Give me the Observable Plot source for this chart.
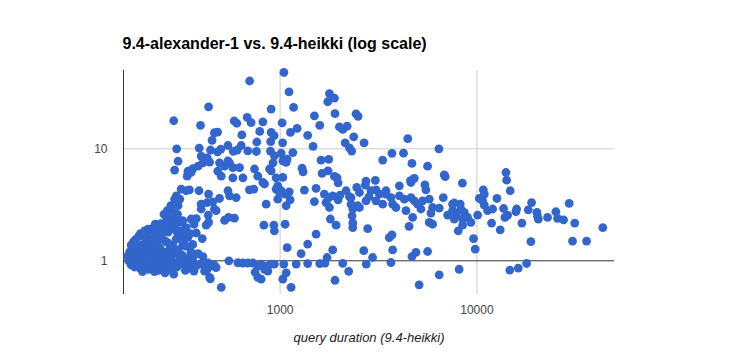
<!DOCTYPE html>
<html><head><meta charset="utf-8">
<script src="https://cdn.jsdelivr.net/npm/d3@7"></script>
<script src="https://cdn.jsdelivr.net/npm/@observablehq/plot@0.6"></script>
<style>
html,body{margin:0;padding:0;background:#fff;}
#chart{width:736px;height:364px;}
</style></head><body><div id="chart"></div>
<script>
const title = "9.4-alexander-1 vs. 9.4-heikki (log scale)";
const xTitle = "query duration (9.4-heikki)";
const xTicks = [1000, 10000];
const yTicks = [1, 10];
const xDomain = [160, 50000];
const yDomain = [0.5, 50];

// [query duration on 9.4-heikki (ms), ratio 9.4-alexander-1 / 9.4-heikki]
const upperLeft = [[1045,48],[700,40.3],[1110,32.2],[1170,23.4],[900,22.6],[433,23.7],[288,17.8],[394,16.2],[584,17.7],[602,16.9],[680,19.1],[712,17.1],[817,17.4],[1024,17.0],[1220,15.2],[1128,14.0],[463,13.9],[481,14.1],[451,11.9],[639,13.3],[788,14.3],[900,14.0],[932,13.1],[895,11.6],[761,11.5],[1030,11.3],[298,10.0],[388,10.15],[443,9.75],[481,9.4],[499,9.9],[543,10.7],[578,9.5],[605,9.75],[634,10.7],[685,9.56],[758,9.46],[893,9.54],[935,8.66],[1012,9.12],[1160,9.25],[1032,7.81],[1086,8.1],[303,7.74],[291,6.45],[340,6.3],[360,6.66],[337,5.7],[383,7.0],[397,8.6],[405,7.5],[438,7.6],[492,7.5],[522,7.0],[553,7.5],[482,6.3],[502,5.7],[575,6.78],[622,6.78],[575,5.5],[647,5.5],[741,6.6],[770,5.7],[883,6.6],[920,7.5],[954,5.5],[1073,7.55],[353,6.15],[413,7.9],[426,8.3],[543,7.81],[900,6.36]];

const diagonal = [[817,5.0],[1032,5.55],[314,4.37],[333,4.22],[346,4.3],[297,3.8],[309,3.55],[291,3.55],[387,4.22],[433,3.94],[397,3.2],[426,3.31],[455,3.36],[492,3.6],[473,2.8],[431,2.56],[543,4.22],[553,3.8],[598,3.67],[698,4.3],[735,4.37],[833,4.85],[954,4.37],[992,4.07],[973,3.55],[1060,3.94],[1073,3.1],[849,3.2],[278,3.1],[267,2.8],[257,2.6],[264,2.2],[275,2.52],[286,2.7],[301,2.6],[232,2.12],[320,2.28],[333,1.98],[353,2.36],[375,2.38],[365,2.12],[421,2.08],[433,2.2],[375,1.77],[402,1.58],[522,2.3],[547,2.44],[586,2.4],[827,2.08],[929,2.08],[935,1.85],[1060,2.12],[1086,1.31],[191,1.65],[205,1.85],[213,1.92],[314,1.62],[320,1.38],[303,3.43],[397,2.9],[973,4.67],[1012,4.22],[1112,4.13],[1124,3.5],[303,3.1],[291,2.2],[309,2.28],[463,2.9],[303,1.85],[320,1.85],[333,1.79],[326,1.41]];

const cluster = [[168,1.1],[170,1.0],[172,1.2],[175,0.92],[178,1.05],[180,1.25],[182,0.88],[185,1.12],[187,0.98],[190,1.33],[192,1.04],[194,0.86],[197,1.18],[199,0.95],[201,1.4],[204,1.08],[206,0.9],[208,1.26],[210,1.0],[213,1.5],[215,0.84],[217,1.15],[220,1.35],[222,0.97],[225,1.06],[228,1.6],[230,0.89],[232,1.22],[235,1.43],[237,1.0],[240,0.82],[242,1.12],[245,1.3],[248,0.93],[250,1.68],[253,1.05],[256,1.2],[258,0.87],[261,1.5],[264,1.0],[267,1.13],[270,1.8],[273,0.91],[276,1.28],[279,1.06],[282,1.95],[285,1.38],[288,0.95],[292,1.17],[296,1.56],[300,0.88],[304,1.25],[308,1.03],[312,1.7],[318,1.12],[325,0.93],[332,1.35],[338,1.05],[345,0.86],[352,1.2],[360,1.0],[370,0.9],[185,1.55],[195,1.75],[205,1.62],[215,1.85],[225,1.95],[240,2.05],[255,1.9],[265,2.3],[275,2.1],[290,2.0],[300,1.8],[180,1.48],[200,0.8],[230,0.8],[260,0.78],[175,1.38],[245,1.55],[268,1.45],[320,1.5],[340,1.62],[248,2.15],[235,1.75],[210,1.72],[290,2.4],[310,2.2],[280,2.6],[278,0.84],[330,0.82],[360,1.4],[350,1.75],[360,1.09],[375,0.90],[413,0.81],[438,0.71]];

const nearOne = [[288,0.76],[442,0.69],[502,0.58],[549,1.0],[610,0.96],[647,0.955],[685,0.955],[727,0.955],[770,0.90],[801,0.935],[866,0.90],[900,0.935],[935,0.935],[746,0.79],[770,0.71],[801,0.685],[833,0.84],[866,0.81],[1044,0.935],[1073,0.78],[1032,0.685],[1137,0.58],[383,1.16],[405,1.09],[431,0.955],[463,0.915],[438,0.90],[397,0.935],[326,1.035],[333,0.955],[340,0.87],[365,0.81],[451,0.90],[473,0.87],[426,0.84],[413,0.965],[1206,0.935],[1380,0.945],[1590,0.945],[1278,1.16],[1380,1.41],[1523,1.73],[1850,1.25],[1732,1.07],[1690,0.954],[2080,0.95],[2230,0.806],[1900,0.67],[2660,1.23],[2950,1.07],[2740,0.935],[3730,1.25],[3657,0.965],[3585,1.61],[3700,1.7],[4675,1.09],[4898,1.19],[5615,1.21],[5085,0.61],[6430,0.75]];

const middle = [[1493,19.7],[1590,16.2],[1780,31.1],[1887,28.3],[1745,26.3],[1900,20.6],[2430,20.5],[2490,19.5],[2000,15.7],[2080,14.9],[2190,15.9],[1380,13.2],[1470,10.5],[2365,12.8],[2670,11.3],[2140,11.3],[2250,10.2],[2310,9.54],[3320,7.93],[3700,9.1],[4235,9.14],[4450,12.3],[4675,7.4],[5615,7.0],[6410,10.0],[6820,5.86],[8435,4.94],[1293,6.7],[1308,6.23],[1614,7.93],[1766,8.05],[1633,6.03],[1752,6.36],[1887,5.68],[1947,5.5],[1970,4.97],[2731,5.15],[3045,5.23],[4595,5.2],[4805,5.45],[5440,4.77],[5505,4.3],[1523,4.44],[1328,4.28],[1493,3.38],[1677,3.94],[1766,3.67],[1850,3.8],[1970,3.5],[2015,3.86],[1711,3.31],[1780,2.99],[1800,2.36],[1924,2.08],[2292,3.67],[2450,4.52],[2530,4.07],[2710,4.74],[2731,3.43],[2480,3.1],[2340,2.9],[2320,2.52],[2340,2.18],[2340,1.98],[2786,1.94],[3070,4.3],[3190,3.94],[3450,4.22],[3320,3.2],[3070,3.43],[3450,3.94],[3657,3.67],[3730,3.2],[3878,2.99],[4035,4.67],[4035,3.8],[4275,3.55],[4358,2.8],[4620,5.0],[4620,3.67],[4805,3.43],[4995,3.2],[5193,2.9],[4712,2.44],[4520,2.03],[5297,3.43],[5725,3.55],[5950,2.99],[5836,2.67],[5725,2.2],[5950,2.12],[6430,2.95],[6745,3.67],[7095,2.56],[7520,3.2],[7817,2.52],[6900,5.65],[2162,4.22],[2250,3.73],[2292,3.2],[2895,4.22],[2830,3.73],[2530,2.99]];

const rightTail = [[14040,6.14],[14150,5.25],[14760,4.22],[10770,4.3],[10900,3.94],[10280,3.6],[10690,3.43],[7670,3.28],[8220,3.2],[7520,2.8],[7817,2.67],[8286,2.9],[8620,2.7],[7670,2.36],[8460,2.36],[8960,2.44],[9314,2.2],[8460,2.08],[8035,1.85],[10080,2.56],[10900,3.14],[11330,2.8],[12020,2.9],[12640,3.6],[11870,2.17],[13130,1.89],[13660,2.93],[13880,2.44],[14320,2.56],[15900,2.9],[15780,2.74],[16920,2.17],[18230,2.85],[18950,3.31],[20170,2.7],[20330,2.49],[20500,2.36],[22850,2.44],[25180,2.74],[25680,2.39],[27550,2.32],[29430,3.25],[31400,2.17],[43600,1.98],[30600,1.5],[36050,1.5],[18800,1.48],[9610,1.58],[9800,1.27],[8120,0.84],[14700,0.826],[16220,0.86],[17880,0.946]];

const data = [...upperLeft, ...diagonal, ...cluster, ...nearOne, ...middle, ...rightTail]
  .map(([ms, ratio]) => ({ms, ratio}));

const font = "'Liberation Sans', Arial, sans-serif";
const chart = Plot.plot({
  width: 736, height: 364,
  marginTop: 70, marginBottom: 70, marginLeft: 123, marginRight: 122,
  style: {fontFamily: font, background: "#fff", color: "#444", overflow: "visible"},
  x: {type: "log", domain: xDomain, label: null},
  y: {type: "log", domain: yDomain, label: null},
  marks: [
    Plot.ruleX(xTicks, {stroke: "#cccccc", strokeWidth: 1}),
    Plot.ruleY(yTicks.filter(d => d !== 1), {stroke: "#cccccc", strokeWidth: 1}),
    Plot.ruleY([1], {stroke: "#333333", strokeWidth: 1}),
    Plot.ruleX([xDomain[0]], {stroke: "#333333", strokeWidth: 1}),
    Plot.axisX(xTicks, {tickSize: 0, tickPadding: 11, tickFormat: d => String(d), fontSize: 12, fill: "#444444", label: null}),
    Plot.axisY(yTicks, {tickSize: 0, tickPadding: 16, tickFormat: d => String(d), fontSize: 12, fill: "#444444", label: null}),
    Plot.dot(data, {x: "ms", y: "ratio", r: 4.4, fill: "#3366cc", stroke: "none"}),
    Plot.text([xTitle], {frameAnchor: "bottom", dy: 47, fontStyle: "italic", fontSize: 13, fill: "#222222"}),
    Plot.text([title], {frameAnchor: "top-left", dx: -1, dy: -33, textAnchor: "start", fontWeight: "bold", fontSize: 16, fill: "#000000"})
  ]
});
document.getElementById("chart").append(chart);
</script>
</body></html>
